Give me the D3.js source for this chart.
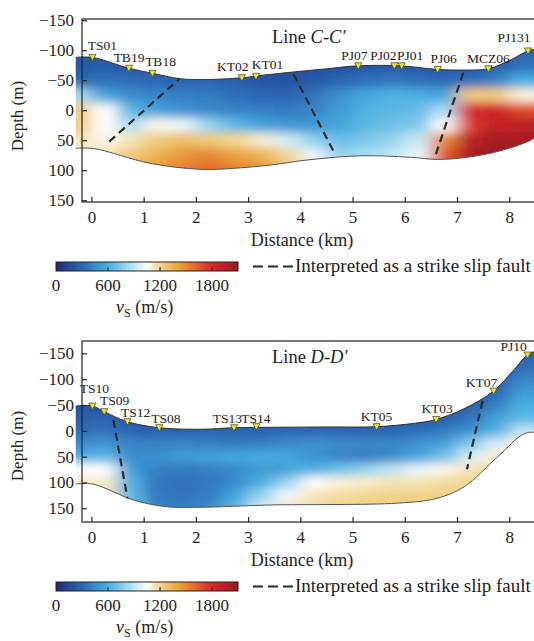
<!DOCTYPE html>
<meta charset="utf-8">
<style type="text/css">
    body { margin: 0; background: #fff; }
    svg { font-family: "Liberation Serif", "Times New Roman", serif; }
    .frame { fill: none; stroke: #222; stroke-width: 1.2; }
    .axis path { display: none; }
    .axis line { stroke: #222; stroke-width: 1.2; }
    .axis text { font-size: 17px; fill: #222; font-family: "Liberation Serif", "Times New Roman", serif; }
    .surface { fill: none; stroke: #333; stroke-width: 1; }
    .base { fill: none; stroke: #555; stroke-width: 1; }
    .fault { fill: none; stroke: #2b2b2b; stroke-width: 2.2; stroke-dasharray: 8,5; }
    .station { fill: #ece23a; stroke: #55551a; stroke-width: 0.8; }
    .slabel { font-size: 13.5px; fill: #222; text-anchor: middle; }
</style>
<body>
</body>

<script src="https://d3js.org/d3.v7.min.js"></script>
<script>
// ---- data ----

// grid columns (km) shared by both sections
var kmCols = [-0.25, 0.25, 0.75, 1.25, 1.75, 2.25, 2.75, 3.25, 3.75, 4.25, 4.75, 5.25, 5.75, 6.25, 6.75, 7.25, 7.75, 8.25];

// Line C-C' : vs (m/s) per depth row
var depthRowsC = [-100, -75, -50, -25, 0, 25, 50, 75, 100];
var vsGridC = [
    [200, 200, 200, 200, 200, 200, 200, 200, 200, 200, 200, 200, 200, 200, 200, 220, 250, 280],
    [230, 240, 220, 200, 200, 200, 200, 190, 180, 190, 200, 210, 220, 220, 210, 230, 260, 330],
    [300, 330, 320, 300, 280, 280, 250, 220, 200, 230, 280, 330, 360, 330, 300, 320, 400, 600],
    [850, 550, 450, 420, 400, 380, 330, 300, 290, 350, 470, 560, 620, 600, 560, 1250, 1250, 1100],
    [1250, 1050, 650, 550, 480, 450, 420, 400, 380, 420, 520, 620, 650, 680, 850, 1800, 1850, 1700],
    [1250, 1050, 850, 1080, 1000, 800, 650, 560, 500, 500, 560, 650, 700, 740, 1050, 1750, 1900, 1950],
    [1150, 1080, 1150, 1250, 1300, 1260, 1200, 1120, 950, 780, 680, 740, 800, 930, 1500, 1950, 2050, 2050],
    [1100, 1150, 1250, 1350, 1450, 1500, 1420, 1350, 1200, 1000, 800, 850, 900, 1000, 1650, 2050, 2100, 2100],
    [1150, 1200, 1350, 1450, 1550, 1600, 1550, 1450, 1300, 1100, 900, 900, 950, 1050, 1700, 2050, 2100, 2100]
];
var topoC = [[-0.3, -88], [0.02, -88], [0.72, -70], [1.17, -61.5], [1.7, -52.5], [2.1, -51], [2.88, -54],
    [3.3, -58.5], [3.9, -64], [4.5, -69], [5.11, -74], [5.9, -74], [6.63, -68], [7.14, -67], [7.6, -69],
    [8.03, -84], [8.36, -99], [8.6, -103]];
var baseC = [[-0.3, 63.5], [0.05, 64], [1.12, 88.5], [2.08, 98.5], [2.71, 97], [3.42, 91.5], [4.13, 83],
    [5.16, 76], [6.11, 78.5], [6.62, 82], [7.2, 78.5], [7.77, 69], [8.35, 52.5], [8.6, 40]];
var stationNamesC = ["TS01", "TB19", "TB18", "KT02", "KT01", "PJ07", "PJ02", "PJ01", "PJ06", "MCZ06", "PJ131"];
var stationKmC = [0.02, 0.72, 1.17, 2.88, 3.15, 5.11, 5.8, 5.94, 6.63, 7.6, 8.36];
var stationDepthC = [-88, -70, -61.5, -54, -56.5, -74, -74, -74, -68, -69, -98.7];
var faultsC = [[[0.34, 52.5], [1.68, -52]], [[3.87, -60], [4.63, 67.5]], [[7.12, -62.5], [6.59, 74.7]]];

// Line D-D'
var depthRowsD = [-150, -125, -100, -75, -50, -25, 0, 25, 50, 75, 100, 125, 150];
var vsGridD = [
    [200, 200, 200, 200, 200, 200, 200, 200, 200, 200, 200, 200, 200, 200, 200, 200, 220, 260],
    [200, 200, 200, 200, 200, 200, 200, 200, 200, 200, 200, 200, 200, 200, 200, 200, 230, 320],
    [200, 200, 200, 200, 200, 200, 200, 200, 200, 200, 200, 200, 200, 200, 200, 200, 250, 420],
    [200, 200, 200, 200, 200, 200, 200, 200, 200, 200, 200, 200, 200, 200, 200, 220, 300, 520],
    [220, 220, 200, 200, 200, 200, 200, 200, 200, 200, 200, 200, 200, 200, 200, 240, 400, 600],
    [240, 260, 230, 220, 220, 220, 220, 220, 220, 220, 220, 220, 220, 220, 250, 350, 550, 650],
    [330, 350, 290, 260, 260, 270, 280, 280, 300, 300, 300, 300, 300, 320, 380, 480, 620, 900],
    [450, 480, 420, 400, 420, 400, 380, 400, 450, 480, 450, 420, 430, 480, 550, 750, 950, 1100],
    [600, 650, 450, 480, 520, 540, 560, 580, 560, 480, 420, 400, 450, 560, 700, 950, 1100, 1150],
    [1050, 1050, 520, 400, 380, 400, 450, 500, 560, 620, 700, 800, 900, 1000, 1080, 1150, 1180, 1200],
    [1120, 1120, 620, 360, 340, 370, 450, 600, 800, 1050, 1100, 1120, 1150, 1150, 1180, 1200, 1200, 1200],
    [1150, 1150, 650, 380, 350, 400, 550, 800, 1020, 1150, 1180, 1200, 1220, 1220, 1220, 1220, 1220, 1220],
    [1150, 1150, 700, 400, 400, 450, 650, 950, 1120, 1180, 1220, 1230, 1230, 1230, 1230, 1230, 1230, 1230]
];
var topoD = [[-0.3, -48], [0.02, -48], [0.245, -37], [0.69, -17.6], [1.3, -6], [2.08, -3], [2.73, -6],
    [3.3, -6.7], [4.5, -7.5], [5.46, -8], [6.18, -14.5], [6.6, -22], [7.14, -43], [7.7, -77], [8.09, -118],
    [8.35, -147], [8.6, -158]];
var baseD = [[-0.3, 103], [0.03, 103], [0.42, 118], [0.8, 134], [1.44, 147], [2.08, 148], [3.42, 143.6],
    [5.86, 140], [6.62, 130.6], [7.14, 108], [7.78, 50], [8.3, 5], [8.6, 3.6]];
var stationNamesD = ["TS10", "TS09", "TS12", "TS08", "TS13", "TS14", "KT05", "KT03", "KT07", "PJ10"];
var stationKmD = [0.02, 0.245, 0.69, 1.3, 2.73, 3.16, 5.46, 6.6, 7.7, 8.35];
var stationDepthD = [-48, -37, -17.6, -6, -6, -8, -8, -22, -77, -146.7];
var faultsD = [[[0.42, -21], [0.69, 130.6]], [[7.49, -58], [7.19, 74.5]]];

var distTicks = [0, 1, 2, 3, 4, 5, 6, 7, 8];
var depthTicks = [-150, -100, -50, 0, 50, 100, 150];
var vsTicks = [0, 600, 1200, 1800];
var vsStops = [0, 300, 600, 850, 1050, 1200, 1400, 1600, 1800, 2100];
var vsColors = ["#1b2a7a", "#2c68b4", "#48aee2", "#a9dcf2", "#ffffff", "#f2d690", "#eaa63c", "#e66a2c", "#d8262a", "#9c1a22"];

// label nudges in px (layout only)
var nudgeC = [[10, -7], [0, -6.5], [8, -7], [-9, -7], [11.5, -7], [-4, -6], [-11, -6], [8.5, -6], [6, -6.6], [0, -6.3], [-14, -9.3]];
var nudgeD = [[2, -13], [10.5, -6.7], [8.3, -4.7], [6.7, -4.7], [-6.5, -4.7], [-0.5, -3.7], [0, -6], [1, -6.3], [-12, -4.3], [-14, -4]];

// ---- drawing ----
var svg = d3.select("body").append("svg")
    .attr("width", 534)
    .attr("height", 641);
var defs = svg.append("defs");

var color = d3.scaleLinear().domain(vsStops).range(vsColors).clamp(true);

defs.append("filter")
    .attr("id", "soft")
    .attr("filterUnits", "userSpaceOnUse")
    .attr("x", -200).attr("y", -200).attr("width", 1000).attr("height", 1100)
    .append("feGaussianBlur")
    .attr("stdDeviation", "9 5");

var grad = defs.append("linearGradient").attr("id", "vsgrad");
d3.range(0, 2101, 50).forEach(function (v) {
    grad.append("stop").attr("offset", (v / 2100 * 100) + "%").attr("stop-color", color(v));
});

var panels = [
    {id: "C", top: 19, bottom: 202, domain: [-152, 153], rows: depthRowsC, grid: vsGridC, topo: topoC, base: baseC,
        names: stationNamesC, km: stationKmC, dep: stationDepthC, nudge: nudgeC, faults: faultsC,
        letter: "C", titleY: 43, cbTop: 262, depthY: 116},
    {id: "D", top: 341, bottom: 522, domain: [-173.8, 176.5], rows: depthRowsD, grid: vsGridD, topo: topoD, base: baseD,
        names: stationNamesD, km: stationKmD, dep: stationDepthD, nudge: nudgeD, faults: faultsD,
        letter: "D", titleY: 363, cbTop: 582, depthY: 446}
];

panels.forEach(function (p) {
    var x = d3.scaleLinear().domain([-0.18, 8.6]).range([82, 540.6]);
    var y = d3.scaleLinear().domain(p.domain).range([p.top, p.bottom]);
    var g = svg.append("g");

    var line = d3.line()
        .x(function (d) { return x(d[0]); })
        .y(function (d) { return y(d[1]); })
        .curve(d3.curveCatmullRom.alpha(0.5));

    var clipD = line(p.topo) + "L" + line(p.base.slice().reverse()).slice(1) + "Z";
    defs.append("clipPath").attr("id", "clip" + p.id).append("path").attr("d", clipD);

    // velocity cells
    var cells = [];
    p.rows.forEach(function (dep, r) {
        kmCols.forEach(function (km, c) {
            cells.push({r: r, c: c, v: p.grid[r][c]});
        });
    });
    var nC = kmCols.length, nR = p.rows.length;
    function cx0(c) { return c === 0 ? x(-2) : x((kmCols[c - 1] + kmCols[c]) / 2); }
    function cx1(c) { return c === nC - 1 ? x(10) : x((kmCols[c] + kmCols[c + 1]) / 2); }
    function ry0(r) { return r === 0 ? y(-500) : y((p.rows[r - 1] + p.rows[r]) / 2); }
    function ry1(r) { return r === nR - 1 ? y(500) : y((p.rows[r] + p.rows[r + 1]) / 2); }

    g.append("g")
        .attr("clip-path", "url(#clip" + p.id + ")")
        .append("g")
        .attr("filter", "url(#soft)")
        .selectAll("rect")
        .data(cells)
        .enter().append("rect")
        .attr("x", function (d) { return cx0(d.c); })
        .attr("y", function (d) { return ry0(d.r); })
        .attr("width", function (d) { return cx1(d.c) - cx0(d.c) + 0.6; })
        .attr("height", function (d) { return ry1(d.r) - ry0(d.r) + 0.6; })
        .attr("fill", function (d) { return color(d.v); });

    g.append("path").attr("class", "base").attr("d", line(p.base));
    g.append("path").attr("class", "surface").attr("d", line(p.topo));

    g.selectAll(".fault")
        .data(p.faults)
        .enter().append("path")
        .attr("class", "fault")
        .attr("d", d3.line().x(function (d) { return x(d[0]); }).y(function (d) { return y(d[1]); }));

    // stations
    var st = p.names.map(function (n, i) { return {name: n, km: p.km[i], dep: p.dep[i], nudge: p.nudge[i]}; });
    g.selectAll(".station")
        .data(st)
        .enter().append("path")
        .attr("class", "station")
        .attr("d", "M-3.6,-3L3.6,-3L0,3.4Z")
        .attr("transform", function (d) { return "translate(" + x(d.km) + "," + y(d.dep) + ")"; });
    g.selectAll(".slabel")
        .data(st)
        .enter().append("text")
        .attr("class", "slabel")
        .attr("x", function (d) { return x(d.km) + d.nudge[0]; })
        .attr("y", function (d) { return y(d.dep) + d.nudge[1]; })
        .text(function (d) { return d.name; });

    // frame and axes
    g.append("rect").attr("class", "frame")
        .attr("x", 82).attr("y", p.top)
        .attr("width", 460).attr("height", p.bottom - p.top);

    g.append("g")
        .attr("class", "axis")
        .attr("transform", "translate(0," + p.bottom + ")")
        .call(d3.axisBottom(x).tickValues(distTicks).tickSize(-5).tickPadding(9).tickFormat(d3.format("d")));

    g.append("g")
        .attr("class", "axis")
        .attr("transform", "translate(82,0)")
        .call(d3.axisLeft(y).tickValues(depthTicks).tickSize(-5).tickPadding(8));

    g.append("text")
        .attr("x", 302).attr("y", p.bottom + 44)
        .attr("text-anchor", "middle")
        .style("font-size", "18px").attr("fill", "#222")
        .text("Distance (km)");

    g.append("text")
        .attr("transform", "translate(17," + p.depthY + ") rotate(-90)")
        .attr("text-anchor", "middle")
        .attr("dy", "0.35em")
        .style("font-size", "17px").attr("fill", "#222")
        .text("Depth (m)");

    var title = g.append("text")
        .attr("x", 272).attr("y", p.titleY)
        .style("font-size", "18.5px").attr("fill", "#222");
    title.append("tspan").text("Line ");
    title.append("tspan").style("font-style", "italic").text(p.letter);
    title.append("tspan").text("-");
    title.append("tspan").style("font-style", "italic").text(p.letter + "\u2032");

    // colour bar
    var cb = d3.scaleLinear().domain([0, 2100]).range([56, 238]);
    g.append("rect")
        .attr("x", cb(0)).attr("y", p.cbTop)
        .attr("width", cb(2100) - cb(0)).attr("height", 9)
        .attr("fill", "url(#vsgrad)")
        .attr("stroke", "#222").attr("stroke-width", 1);
    g.selectAll(".cbtick")
        .data(vsTicks.slice(1))
        .enter().append("line")
        .attr("x1", function (d) { return cb(d); }).attr("x2", function (d) { return cb(d); })
        .attr("y1", p.cbTop + 9).attr("y2", p.cbTop + 5)
        .attr("stroke", "#222").attr("stroke-width", 1);
    g.selectAll(".cblabel")
        .data(vsTicks)
        .enter().append("text")
        .attr("x", function (d) { return cb(d); })
        .attr("y", p.cbTop + 29)
        .attr("text-anchor", "middle")
        .style("font-size", "17px").attr("fill", "#222")
        .text(function (d) { return d; });
    var vl = g.append("text")
        .attr("x", 116).attr("y", p.cbTop + 51)
        .style("font-size", "18px").attr("fill", "#222");
    vl.append("tspan").style("font-style", "italic").text("v");
    vl.append("tspan").attr("dy", 4).style("font-size", "12px").text("S");
    vl.append("tspan").attr("dy", -4).text(" (m/s)");

    // legend
    g.append("line")
        .attr("x1", 253).attr("x2", 293)
        .attr("y1", p.cbTop + 4.5).attr("y2", p.cbTop + 4.5)
        .attr("stroke", "#2b2b2b").attr("stroke-width", 2.2)
        .attr("stroke-dasharray", "10,5");
    g.append("text")
        .attr("x", 295).attr("y", p.cbTop + 10)
        .style("font-size", "19px").attr("fill", "#222")
        .text("Interpreted as a strike slip fault");
});
</script>
